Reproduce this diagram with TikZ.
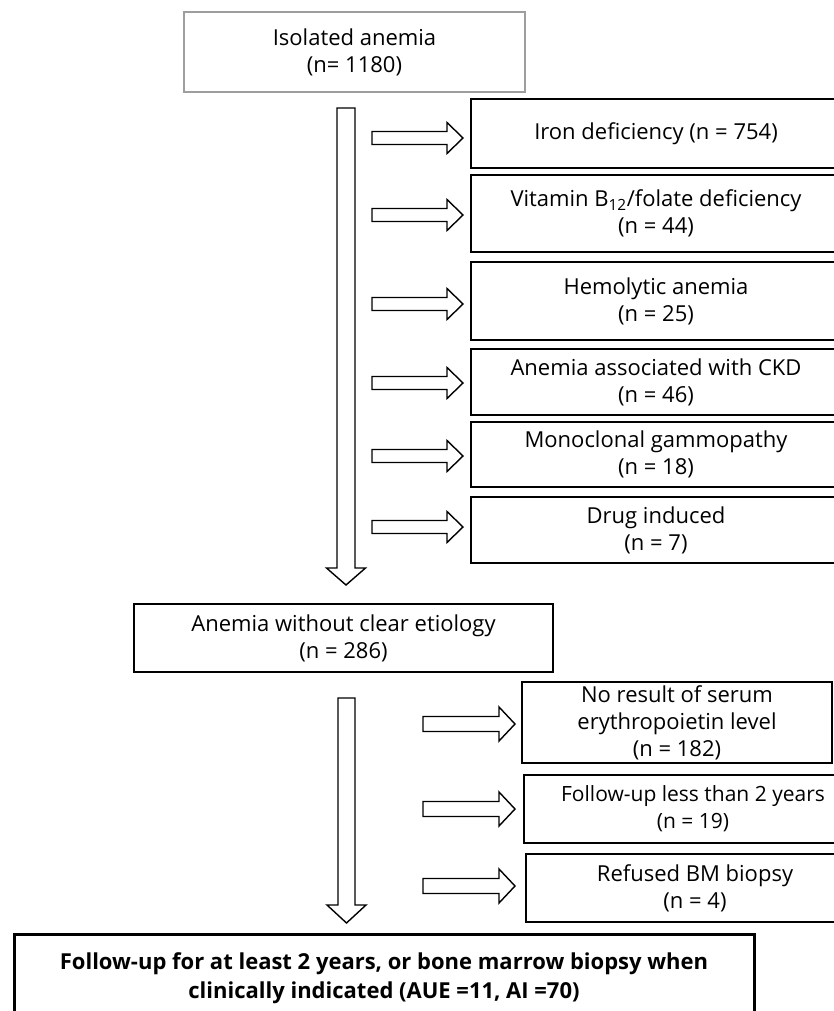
\documentclass[tikz,border=0pt]{standalone}
\usepackage{fontspec}
\setmainfont{Open Sans}
\begin{document}
\begin{tikzpicture}[x=1pt,y=-1pt,
  box/.style={draw=black, line width=1.8pt, rectangle, inner sep=0pt, align=center,
    font=\fontsize{22}{27}\selectfont},
  graybox/.style={box, draw=black!38},
  smalltext/.style={font=\fontsize{21}{27}\selectfont},
  finalbox/.style={box, line width=3pt, font=\fontsize{22}{29}\selectfont\bfseries},
  blockarrow/.style={draw=black, line width=1.4pt, fill=white, line join=miter},
  pics/harrow/.style n args={4}{code={%
    \draw[blockarrow] (-#1,-#2) -- (-#4,-#2) -- (-#4,-#3) -- (0,0) -- (-#4,#3) -- (-#4,#2) -- (-#1,#2) -- cycle;}},
  pics/varrow/.style n args={4}{code={%
    \draw[blockarrow] (-#2,-#1) -- (-#2,-#4) -- (-#3,-#4) -- (0,0) -- (#3,-#4) -- (#2,-#4) -- (#2,-#1) -- cycle;}},
]
\useasboundingbox (0,0) rectangle (834,1011);
\fill[white] (0,0) rectangle (834,1011);

% boxes
\node[graybox, minimum width=341, minimum height=80] (top) at (354.5,52) {Isolated anemia\\(n= 1180)};
\node[box, minimum width=370, minimum height=69] (iron) at (656,133.5) {Iron deficiency (n = 754)};
\node[box, minimum width=370, minimum height=77] (vit) at (656,213.5) {Vitamin B\textsubscript{12}/folate deficiency\\(n = 44)};
\node[box, minimum width=370, minimum height=78] (hemo) at (656,301) {Hemolytic anemia\\(n = 25)};
\node[box, minimum width=370, minimum height=66] (ckd) at (656,382) {Anemia associated with CKD\\(n = 46)};
\node[box, minimum width=370, minimum height=65] (mono) at (656,454.5) {Monoclonal gammopathy\\(n = 18)};
\node[box, minimum width=370, minimum height=66] (drug) at (656,530) {Drug induced\\(n = 7)};
\node[box, minimum width=419, minimum height=68] (anemia) at (343.5,638) {Anemia without clear etiology\\(n = 286)};
\node[box, minimum width=310, minimum height=81] (epo) at (677,722.5) {No result of serum\\erythropoietin level\\(n = 182)};
\node[box, smalltext, minimum width=338, minimum height=68] (fu) at (693,809) {Follow-up less than 2 years\\(n = 19)};
\node[box, minimum width=338, minimum height=68] (ref) at (695,888) {Refused BM biopsy\\(n = 4)};
\node[finalbox, minimum width=740, minimum height=88] (final) at (384,978) {Follow-up for at least 2 years, or bone marrow biopsy when\\clinically indicated (AUE =11, AI =70)};

% main vertical arrows
\coordinate (v1tip) at (346,585);
\coordinate (v2tip) at (346.5,923);
\pic at (v1tip) {varrow={477}{9}{19.5}{17}};
\pic at (v2tip) {varrow={225}{8.5}{19.5}{18}};

% side arrows, group 1
\coordinate (a1) at (463,138);
\coordinate (a2) at (463,215);
\coordinate (a3) at (463,304);
\coordinate (a4) at (463,383);
\coordinate (a5) at (463,456);
\coordinate (a6) at (463,527);
\foreach \c in {a1,a2,a3,a4,a5,a6}
  \pic at (\c) {harrow={91}{6.5}{15.5}{16}};

% side arrows, group 2
\coordinate (b1) at (515,724);
\coordinate (b2) at (515,809);
\coordinate (b3) at (515,886);
\foreach \c in {b1,b2,b3}
  \pic at (\c) {harrow={92}{7.5}{17}{16}};
\end{tikzpicture}
\end{document}
